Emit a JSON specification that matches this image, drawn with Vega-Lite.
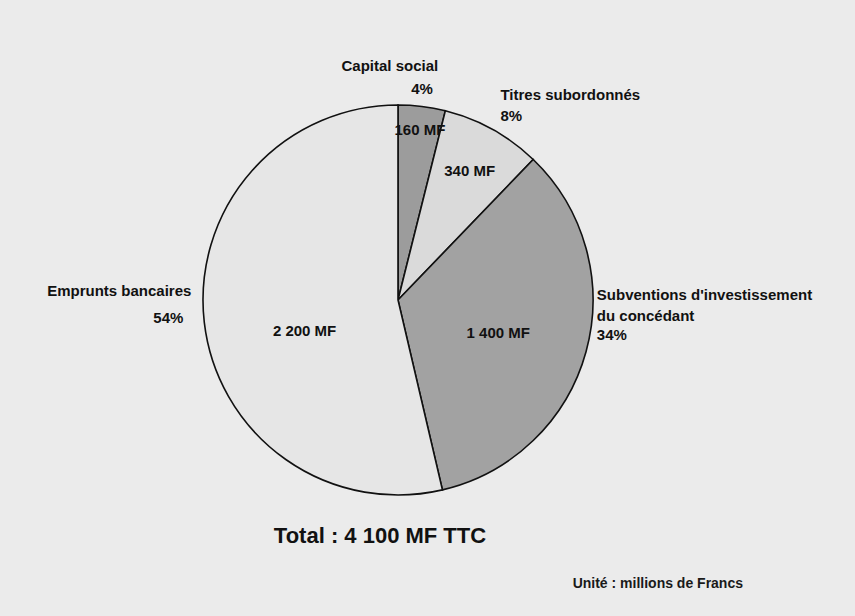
{
  "$schema": "https://vega.github.io/schema/vega-lite/v6.json",
  "width": 796,
  "height": 600,
  "autosize": {"type": "none"},
  "padding": {"left": 0, "top": 0, "right": 59, "bottom": 16},
  "background": "#ebebeb",
  "config": {"view": {"stroke": null}, "font": "Liberation Sans", "text": {"font": "Liberation Sans", "fontWeight": "bold", "fontSize": 15, "color": "#111111", "baseline": "middle"}},
  "title": {
    "text": "Total : 4 100 MF TTC",
    "orient": "bottom",
    "anchor": "middle",
    "baseline": "top",
    "offset": -74,
    "dx": -18,
    "fontSize": 22,
    "font": "Liberation Sans",
    "fontWeight": "bold",
    "color": "#111111"
  },
  "data": {
    "values": [
      {"cat": "Capital social", "valeur": 160, "ordre": 1, "mf": "160 MF", "pct": "4%"},
      {"cat": "Titres subordonnés", "valeur": 340, "ordre": 2, "mf": "340 MF", "pct": "8%"},
      {"cat": "Subventions d'investissement du concédant", "valeur": 1400, "ordre": 3, "mf": "1 400 MF", "pct": "34%"},
      {"cat": "Emprunts bancaires", "valeur": 2200, "ordre": 4, "mf": "2 200 MF", "pct": "54%"}
    ]
  },
  "transform": [
    {"window": [{"op": "sum", "field": "valeur", "as": "fin"}], "sort": [{"field": "ordre"}], "frame": [null, 0]},
    {"calculate": "datum.fin - datum.valeur", "as": "debut"},
    {"calculate": "datum.fin - datum.valeur / 2", "as": "mid"}
  ],
  "layer": [
    {
      "mark": {"type": "arc", "outerRadius": 195, "stroke": "#111111", "strokeWidth": 1.6},
      "encoding": {
        "theta": {"field": "debut", "type": "quantitative", "stack": null, "scale": {"domain": [0, 4100]}},
        "theta2": {"field": "fin"},
        "color": {
          "field": "cat",
          "type": "nominal",
          "legend": null,
          "scale": {
            "domain": ["Capital social", "Titres subordonnés", "Subventions d'investissement du concédant", "Emprunts bancaires"],
            "range": ["#9c9c9c", "#dadada", "#a2a2a2", "#e6e6e6"]
          }
        }
      }
    },
    {
      "transform": [{"filter": "datum.ordre == 1"}],
      "mark": {"type": "text", "radius": 171, "dx": 1, "align": "center"},
      "encoding": {"theta": {"field": "mid", "type": "quantitative", "stack": null}, "text": {"field": "mf"}}
    },
    {
      "transform": [{"filter": "datum.ordre == 2"}],
      "mark": {"type": "text", "radius": 148, "align": "center"},
      "encoding": {"theta": {"field": "mid", "type": "quantitative", "stack": null}, "text": {"field": "mf"}}
    },
    {
      "transform": [{"filter": "datum.ordre == 3"}],
      "mark": {"type": "text", "radius": 104, "dy": 5, "align": "center"},
      "encoding": {"theta": {"field": "mid", "type": "quantitative", "stack": null}, "text": {"field": "mf"}}
    },
    {
      "transform": [{"filter": "datum.ordre == 4"}],
      "mark": {"type": "text", "radius": 92, "dx": -2, "dy": 20, "align": "center"},
      "encoding": {"theta": {"field": "mid", "type": "quantitative", "stack": null}, "text": {"field": "mf"}}
    },
    {
      "transform": [{"filter": "datum.ordre == 1"}],
      "mark": {"type": "text", "radius": 236, "dx": -37, "align": "center"},
      "encoding": {"theta": {"field": "mid", "type": "quantitative", "stack": null}, "text": {"field": "cat"}}
    },
    {
      "transform": [{"filter": "datum.ordre == 1"}],
      "mark": {"type": "text", "radius": 213, "dx": -2, "align": "center"},
      "encoding": {"theta": {"field": "mid", "type": "quantitative", "stack": null}, "text": {"field": "pct"}}
    },
    {
      "transform": [{"filter": "datum.ordre == 2"}],
      "mark": {"type": "text", "radius": 230, "dx": -9, "dy": -4, "align": "left"},
      "encoding": {"theta": {"field": "mid", "type": "quantitative", "stack": null}, "text": {"field": "cat"}}
    },
    {
      "transform": [{"filter": "datum.ordre == 2"}],
      "mark": {"type": "text", "radius": 230, "dx": -9, "dy": 17, "align": "left"},
      "encoding": {"theta": {"field": "mid", "type": "quantitative", "stack": null}, "text": {"field": "pct"}}
    },
    {
      "transform": [{"filter": "datum.ordre == 3"}],
      "mark": {"type": "text", "radius": 200, "dx": 6, "dy": -58, "align": "left"},
      "encoding": {"theta": {"field": "mid", "type": "quantitative", "stack": null}, "text": {"value": "Subventions d'investissement"}}
    },
    {
      "transform": [{"filter": "datum.ordre == 3"}],
      "mark": {"type": "text", "radius": 200, "dx": 6, "dy": -37, "align": "left"},
      "encoding": {"theta": {"field": "mid", "type": "quantitative", "stack": null}, "text": {"value": "du concédant"}}
    },
    {
      "transform": [{"filter": "datum.ordre == 3"}],
      "mark": {"type": "text", "radius": 200, "dx": 6, "dy": -18, "align": "left"},
      "encoding": {"theta": {"field": "mid", "type": "quantitative", "stack": null}, "text": {"field": "pct"}}
    },
    {
      "transform": [{"filter": "datum.ordre == 4"}],
      "mark": {"type": "text", "radius": 205, "dx": -3, "dy": -33, "align": "right"},
      "encoding": {"theta": {"field": "mid", "type": "quantitative", "stack": null}, "text": {"field": "cat"}}
    },
    {
      "transform": [{"filter": "datum.ordre == 4"}],
      "mark": {"type": "text", "radius": 212, "dx": -4, "dy": -6, "align": "right"},
      "encoding": {"theta": {"field": "mid", "type": "quantitative", "stack": null}, "text": {"field": "pct"}}
    },
    {
      "data": {"values": [{"unite": "Unité : millions de Francs"}]},
      "mark": {"type": "text", "x": {"expr": "width - 53"}, "y": {"expr": "height - 16"}, "align": "right", "fontSize": 14, "color": "#1a1a1a"},
      "encoding": {"text": {"field": "unite"}}
    }
  ]
}
